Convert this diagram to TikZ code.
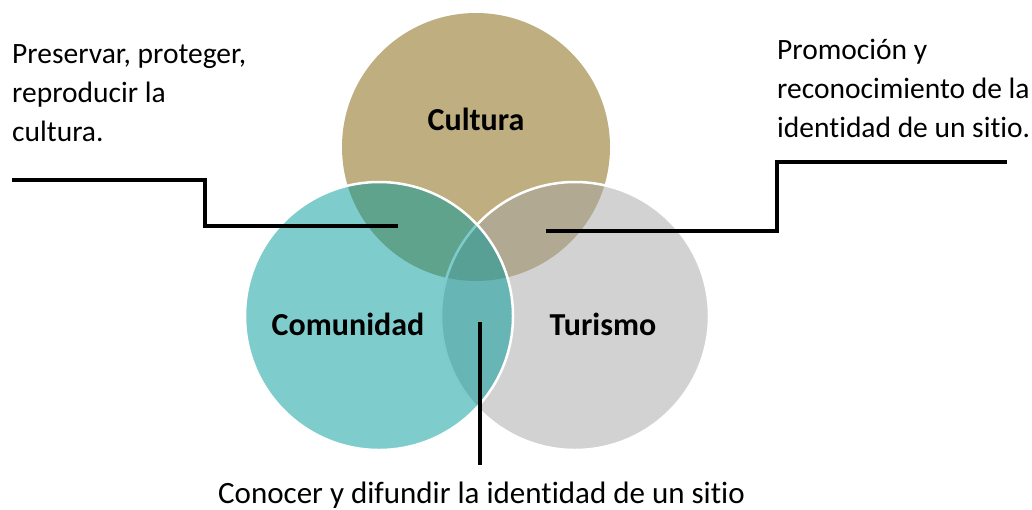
\documentclass[tikz,border=0pt]{standalone}
\usepackage{fontspec}
\setmainfont{Carlito}[Ligatures={NoCommon}]
\definecolor{cultcol}{RGB}{191,174,128}
\definecolor{comcol}{RGB}{0,153,153}
\definecolor{turcol}{RGB}{166,166,166}
\begin{document}
\begin{tikzpicture}[x=1pt,y=-1pt,
  venn/.style={circle, minimum size=268pt, inner sep=0pt},
  bigword/.style={font=\fontsize{32}{38}\selectfont\bfseries, inner sep=0pt, anchor=base},
  note/.style={font=\fontsize{29.5}{39}\selectfont, inner sep=0pt, align=left},
  callout/.style={draw=black, line width=4pt, line join=miter}]
\useasboundingbox (0,0) rectangle (1032,509);
% circles
\node[venn, fill=cultcol] (cul) at (476,147) {};
\node[venn, fill=turcol, fill opacity=0.5, draw=white, draw opacity=1, line width=2.5pt] (tur) at (575,316) {};
\node[venn, fill=comcol, fill opacity=0.5, draw=white, draw opacity=1, line width=2.5pt] (com) at (379,316) {};
% labels
\node[bigword] (lcul) at (476,130) {Cultura};
\node[bigword] (lcom) at (348,335) {Comunidad};
\node[bigword] (ltur) at (603,335) {Turismo};
% notes (base anchor = baseline of last line)
\node[note, anchor=base west] (nleft) at (12,141) {Preservar, proteger,\\reproducir la\\cultura.};
\node[note, anchor=base west] (nright) at (777,137) {Promoción y\\reconocimiento de la\\identidad de un sitio.};
\node[note, font=\fontsize{31}{39}\selectfont, anchor=base] (nbot) at (481.5,503) {Conocer y difundir la identidad de un sitio};
% callout coordinates
\coordinate (a0) at (12,180);
\coordinate (a1) at (205,180);
\coordinate (a2) at (205,226);
\coordinate (a3) at (398,226);
\coordinate (b0) at (1007,162);
\coordinate (b1) at (777,162);
\coordinate (b2) at (777,231);
\coordinate (b3) at (546,231);
\coordinate (c0) at (480,322);
\coordinate (c1) at (480,465);
\draw[callout] (a0) -- (a1) -- (a2) -- (a3);
\draw[callout] (b0) -- (b1) -- (b2) -- (b3);
\draw[callout] (c0) -- (c1);
\end{tikzpicture}
\end{document}
